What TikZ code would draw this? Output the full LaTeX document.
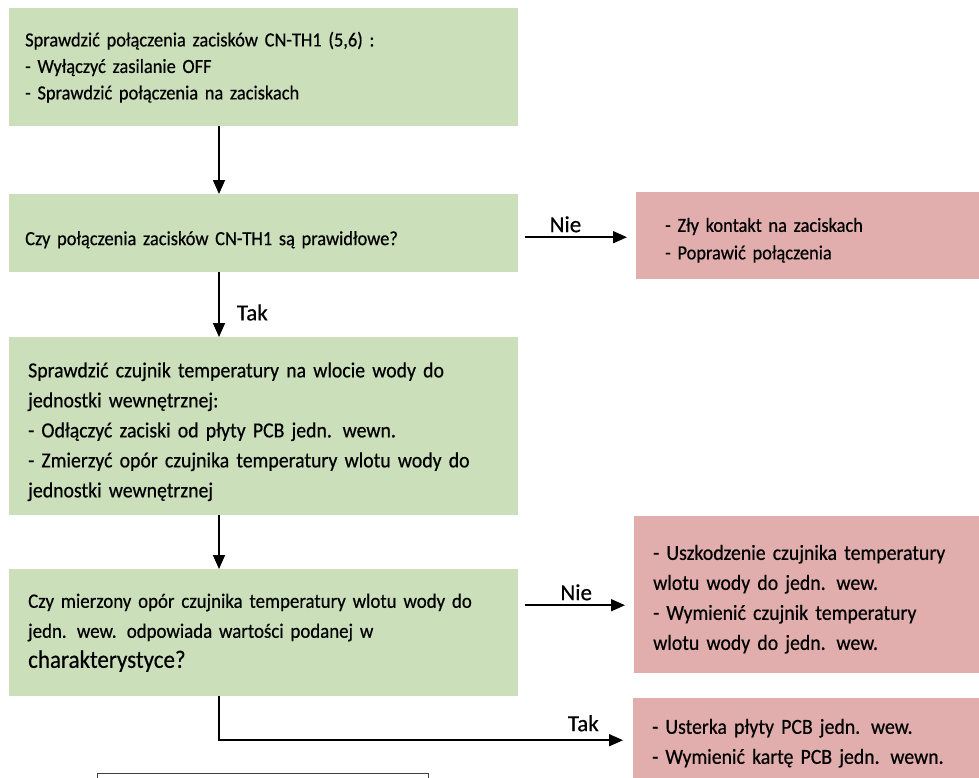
\documentclass[tikz,border=0pt]{standalone}
\usepackage{fontspec}
\setmainfont{Carlito}[FakeStretch=0.92,FakeBold=0.5]
\newfontfamily\widesp{Carlito}[WordSpace=1.7,FakeStretch=0.92,FakeBold=0.5]
\newfontfamily\answerfont{Carlito}[FakeBold=0.5]
\usetikzlibrary{arrows.meta,calc,positioning}
\definecolor{stepgreen}{RGB}{204,223,187}
\definecolor{faultred}{RGB}{225,174,173}

\begin{document}
\begin{tikzpicture}[x=1pt,y=-1pt,>={Triangle[length=14pt,width=12pt]},
  greenbox/.style={fill=stepgreen,anchor=north west,align=left,inner ysep=0pt,minimum width=509pt},
  redbox/.style={fill=faultred,anchor=north west,align=left,inner ysep=0pt},
  smalltxt/.style={font=\fontsize{20}{26.5}\selectfont},
  largetxt/.style={font=\fontsize{21.5}{30}\selectfont},
  drop/.style={execute at begin node={\rule{0pt}{#1}}},
  flow/.style={line width=1.8pt,->},
  answer/.style={font=\answerfont\fontsize{23}{26}\selectfont,inner sep=2pt}]
\useasboundingbox (0,0) rectangle (979,777);
\clip (0,0) rectangle (979,777);
% steps and questions
\node[greenbox,smalltxt,inner xsep=16pt,text width=477pt,minimum height=118pt] (chk) at (9,8)
  {{\widesp Sprawdzić połączenia zacisków CN-TH1 (5,6) :}\\- Wyłączyć zasilanie OFF\\{\widesp - Sprawdzić połączenia na zaciskach}};
\node[greenbox,smalltxt,drop=27pt,inner xsep=16pt,text width=477pt,minimum height=78pt] (qa) at (9,194)
  {\widesp Czy połączenia zacisków CN-TH1 są prawidłowe?};
\node[greenbox,largetxt,drop=26pt,inner xsep=19pt,text width=471pt,minimum height=178pt] (meas) at (9,337)
  {Sprawdzić czujnik temperatury na wlocie wody do\\jednostki wewnętrznej:\\{\widesp - Odłączyć zaciski od płyty PCB jedn. wewn.}\\- Zmierzyć opór czujnika temperatury wlotu wody do\\jednostki wewnętrznej};
\node[greenbox,font=\fontsize{20.5}{30}\selectfont,inner xsep=19pt,text width=471pt,minimum height=127pt] (qb) at (9,569)
  {Czy mierzony opór czujnika temperatury wlotu wody do\\{\widesp jedn. wew. odpowiada wartości podanej w}\\{\fontsize{25}{30}\selectfont charakterystyce?}};
% faults
\node[redbox,font=\fontsize{20}{27.5}\selectfont,drop=23pt,inner xsep=29pt,text width=296pt,minimum height=87pt] (fixa) at (636,192)
  {- Zły kontakt na zaciskach\\- Poprawić połączenia};
\node[redbox,largetxt,drop=24pt,inner xsep=19pt,text width=318pt,minimum height=157pt] (fixb) at (634,516)
  {- Uszkodzenie czujnika temperatury\\wlotu wody do jedn. wew.\\- Wymienić czujnik temperatury\\wlotu wody do jedn. wew.};
\node[redbox,largetxt,inner xsep=19pt,text width=319pt,minimum height=90pt] (fixc) at (633,698)
  {{\widesp - Usterka płyty PCB jedn. wew.}\\{\widesp - Wymienić kartę PCB jedn. wewn.}};
\node[draw=black!75,line width=0.8pt,anchor=north west,minimum width=331pt,minimum height=40pt] (note) at (97,773) {};
% connectors
\coordinate (spine) at (219,0);
\draw[flow] (chk.south -| spine) -- (qa.north -| spine);
\draw[flow] (qa.south -| spine) -- node[answer,pos=0.62,right=15pt] {Tak} (meas.north -| spine);
\draw[flow] (meas.south -| spine) -- (qb.north -| spine);
\draw[flow,shorten <=7pt,shorten >=9pt] ([yshift=-4pt]qa.east) -- node[answer,pos=0.4,above=2pt] {Nie} ([yshift=-4pt]qa.east -| fixa.west);
\draw[flow,shorten <=7pt,shorten >=9pt] ([yshift=27.5pt]qb.east) -- node[answer,pos=0.5,above=2pt] {Nie} ([yshift=27.5pt]qb.east -| fixb.west);
\draw[flow,shorten >=10pt] (qb.south -| spine) |- node[answer,pos=0.94,above=6pt] {Tak} ([yshift=3pt]fixc.west);
\end{tikzpicture}
\end{document}
